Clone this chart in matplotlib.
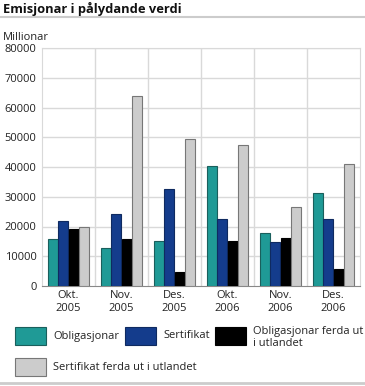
import matplotlib
matplotlib.use("Agg")
import matplotlib.pyplot as plt
from matplotlib.patches import Rectangle
from matplotlib.lines import Line2D
import numpy as np

plt.rcParams['font.family'] = ['Open Sans', 'DejaVu Sans']

categories = ["Okt.\n2005", "Nov.\n2005", "Des.\n2005", "Okt.\n2006", "Nov.\n2006", "Des.\n2006"]
obligasjonar = [15800, 12700, 15000, 40200, 17900, 31100]
sertifikat = [21700, 24300, 32700, 22600, 14900, 22400]
oblig_utland = [19000, 15800, 4800, 15100, 16200, 5600]
sert_utland = [20000, 63800, 49300, 47400, 26500, 40900]
series_labels = ["Obligasjonar", "Sertifikat", "Obligasjonar ferda ut\ni utlandet",
                 "Sertifikat ferda ut i utlandet"]
yticks = [0, 10000, 20000, 30000, 40000, 50000, 60000, 70000, 80000]

colors = ["#1f9a96", "#143c8c", "#000000", "#cccccc"]
edges = ["#1a5f5c", "#0f2a60", "#000000", "#777777"]

W, H = 365, 386
fig = plt.figure(figsize=(W / 100, H / 100), dpi=100)
ax = fig.add_axes([42 / W, 1 - 286 / H, 318 / W, 238 / H])

series = [obligasjonar, sertifikat, oblig_utland, sert_utland]
x = np.arange(len(categories))
bw = 0.185
for i, (s, c, e) in enumerate(zip(series, colors, edges)):
    ax.bar(x + (i - 1.5) * 0.2, s, width=bw, color=c, edgecolor=e, linewidth=0.8, zorder=3)

ax.set_xlim(-0.5, len(categories) - 0.5)
ax.set_ylim(0, 80000)
ax.set_yticks(yticks)
ax.set_yticklabels([str(v) for v in yticks], fontsize=8, color="#222222")
ax.set_xticks(x)
ax.set_xticklabels(categories, fontsize=8, color="#222222", linespacing=1.25)
ax.tick_params(axis='both', length=0, pad=3)
ax.tick_params(axis='y', pad=4)
for v in yticks[1:]:
    ax.axhline(v, color="#d9d9d9", linewidth=1, zorder=1)
for b in np.arange(0.5, len(categories) - 0.5, 1):
    ax.axvline(b, color="#d9d9d9", linewidth=1, zorder=1)
for sp in ["top", "right", "left"]:
    ax.spines[sp].set_color("#d9d9d9")
ax.spines["bottom"].set_color("#888888")

fig.text(3 / W, 1 - 9 / H, "Emisjonar i pålydande verdi", fontsize=9.3, fontweight="bold",
         va="center", ha="left", color="#111111")
fig.add_artist(Line2D([0, 1], [1 - 17 / H, 1 - 17 / H], color="#cccccc", linewidth=1.5))
fig.add_artist(Line2D([0, 1], [1 - 383 / H, 1 - 383 / H], color="#cccccc", linewidth=2))
fig.text(3 / W, 1 - 37 / H, "Millionar", fontsize=8, va="center", ha="left", color="#222222")

# legend
pos = [(15, 327), (125, 327), (215, 327), (15, 358)]
for (px, py), lab, c, e in zip(pos, series_labels, colors, edges):
    fig.add_artist(Rectangle((px / W, 1 - (py + 18) / H), 31 / W, 18 / H,
                             facecolor=c, edgecolor=e, linewidth=0.8, transform=fig.transFigure))
    if "\n" in lab:
        fig.text((px + 38) / W, 1 - (py - 1) / H, lab, fontsize=8, va="top", ha="left",
                 color="#222222", linespacing=1.1)
    else:
        fig.text((px + 38) / W, 1 - (py + 9) / H, lab, fontsize=8, va="center", ha="left",
                 color="#222222")

fig.savefig("out.png", dpi=100)
